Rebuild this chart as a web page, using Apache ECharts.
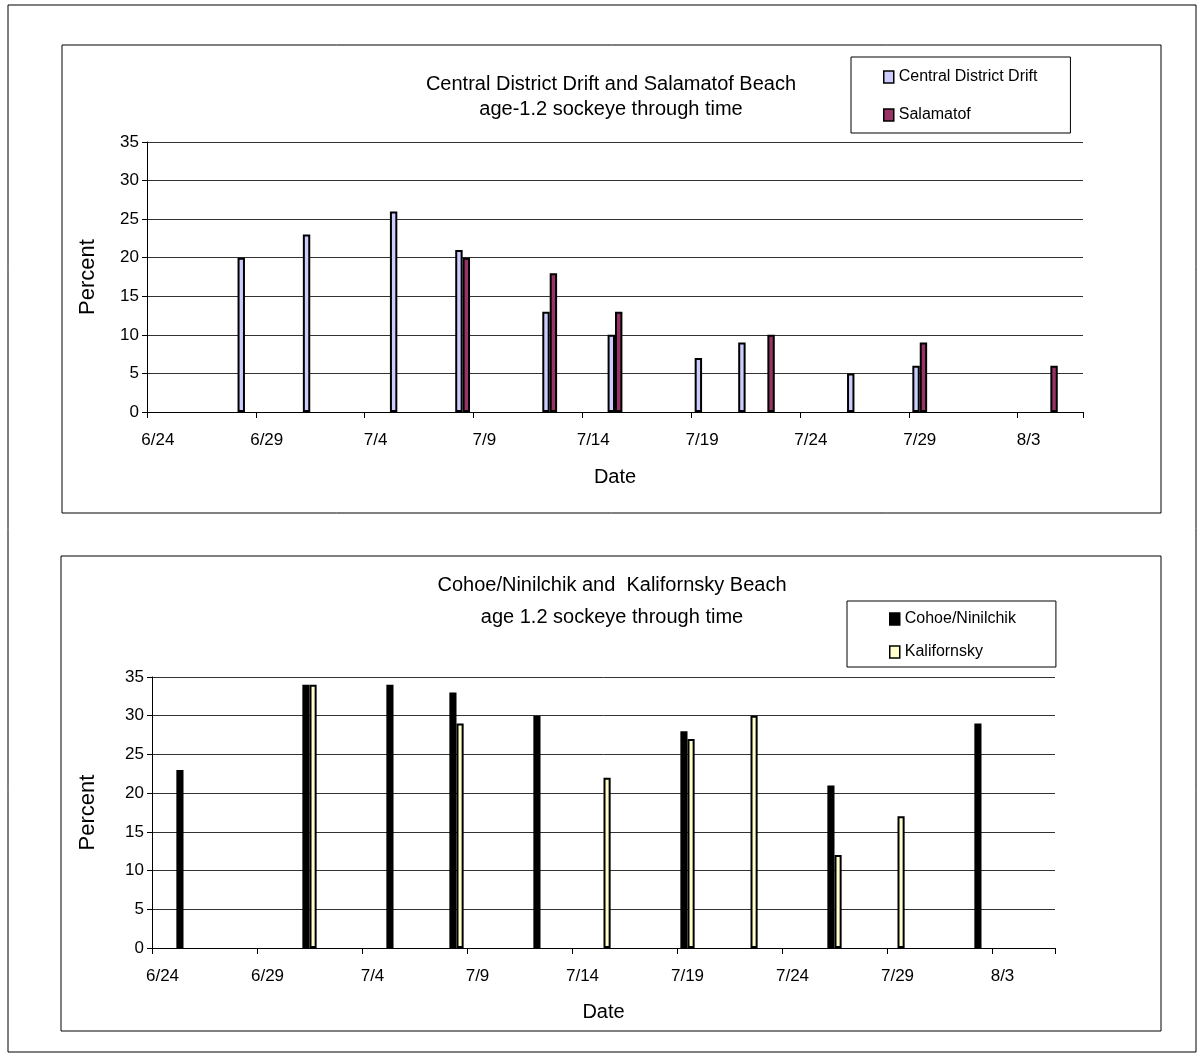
<!DOCTYPE html>
<html>
<head>
    <meta charset="utf-8">
    <title>age 1.2 sockeye through time</title>
    <script src="https://cdn.jsdelivr.net/npm/echarts@6/dist/echarts.min.js"></script>
    <style>
        body { margin: 0; background: #fff; }
        #main { width: 1203px; height: 1059px; }
    </style>
</head>
<body>
    <div id="main"></div>

    <script type="text/javascript">
    // one category per day, 6/24 .. 8/5
    var days = ['6/24','6/25','6/26','6/27','6/28','6/29','6/30',
        '7/1','7/2','7/3','7/4','7/5','7/6','7/7','7/8','7/9','7/10','7/11','7/12','7/13','7/14','7/15',
        '7/16','7/17','7/18','7/19','7/20','7/21','7/22','7/23','7/24','7/25','7/26','7/27','7/28','7/29',
        '7/30','7/31','8/1','8/2','8/3','8/4','8/5'];

    // top chart
    var cddDays = ['6/28','7/1','7/5','7/8','7/12','7/15','7/19','7/21','7/26','7/29'];
    var cddVals = [20, 23, 26, 21, 13, 10, 7, 9, 5, 6];
    var salDays = ['7/8','7/12','7/15','7/22','7/29','8/4'];
    var salVals = [20, 18, 13, 10, 9, 6];

    // bottom chart
    var cohDays = ['6/25','7/1','7/5','7/8','7/12','7/19','7/26','8/2'];
    var cohVals = [23, 34, 34, 33, 30, 28, 21, 29];
    var kalDays = ['7/1','7/8','7/15','7/19','7/22','7/26','7/29'];
    var kalVals = [34, 29, 22, 27, 30, 12, 17];

    var FONT = "'Liberation Sans', Arial, sans-serif";

    function spread(d, v) {
        var res = days.map(function () { return '-'; });
        for (var i = 0; i < d.length; i++) {
            res[days.indexOf(d[i])] = v[i];
        }
        return res;
    }

    function xAxisFor(g, gap) {
        return {
            type: 'category',
            gridIndex: g,
            data: days,
            name: 'Date',
            nameLocation: 'middle',
            nameGap: gap,
            nameTextStyle: { fontSize: 20, color: '#000' },
            axisLine: { lineStyle: { color: '#000', width: 1 } },
            axisTick: {
                show: true,
                alignWithLabel: false,
                length: 6,
                interval: 4,
                lineStyle: { color: '#000', width: 1 }
            },
            axisLabel: { interval: 4, fontSize: 17, color: '#000', margin: 20 },
            splitLine: { show: false }
        };
    }

    function yAxisFor(g, gap) {
        return {
            type: 'value',
            gridIndex: g,
            min: 0,
            max: 35,
            interval: 5,
            name: 'Percent',
            nameLocation: 'middle',
            nameRotate: 90,
            nameGap: gap,
            nameTextStyle: { fontSize: 22, color: '#000' },
            axisLine: { show: true, lineStyle: { color: '#000', width: 1 } },
            axisTick: { show: true, length: 5, lineStyle: { color: '#000' } },
            axisLabel: { fontSize: 17, color: '#000', margin: 8 },
            splitLine: { lineStyle: { color: '#333', width: 1 } }
        };
    }

    function barSeries(name, g, color, data) {
        return {
            name: name,
            type: 'bar',
            xAxisIndex: g,
            yAxisIndex: g,
            barGap: '0%',
            barCategoryGap: '32%',
            itemStyle: { color: color, borderColor: '#000', borderWidth: 2 },
            data: data
        };
    }

    function legendFor(names, left, top, pad, gap) {
        return {
            data: names,
            orient: 'vertical',
            left: left,
            top: top,
            padding: pad,
            itemGap: gap,
            itemWidth: 10,
            itemHeight: 12,
            icon: 'rect',
            selectedMode: false,
            borderColor: '#000',
            borderWidth: 1,
            itemStyle: { borderColor: '#000', borderWidth: 1.5 },
            textStyle: { fontSize: 16, color: '#000', lineHeight: 18 }
        };
    }

    var myChart = echarts.init(document.getElementById('main'));

    var option = {
        animation: false,
        backgroundColor: '#fff',
        textStyle: { fontFamily: FONT },
        title: [
            {
                text: 'Central District Drift and Salamatof Beach\nage-1.2 sockeye through time',
                left: 611, top: 72, textAlign: 'center', padding: 0,
                textStyle: { fontSize: 20, fontWeight: 'normal', color: '#000', lineHeight: 25 }
            },
            {
                text: 'Cohoe/Ninilchik and  Kalifornsky Beach\nage 1.2 sockeye through time',
                left: 612, top: 569, textAlign: 'center', padding: 0,
                textStyle: { fontSize: 20, fontWeight: 'normal', color: '#000', lineHeight: 32 }
            }
        ],
        legend: [
            legendFor(['Central District Drift', 'Salamatof'], 851, 57, [11, 33, 9, 32], 20),
            legendFor(['Cohoe/Ninilchik', 'Kalifornsky'], 847, 601, [9, 40, 6, 42], 15)
        ],
        grid: [
            { left: 147, top: 142, width: 936, height: 270 },
            { left: 152, top: 677, width: 903, height: 271 }
        ],
        xAxis: [xAxisFor(0, 55), xAxisFor(1, 54)],
        yAxis: [yAxisFor(0, 48), yAxisFor(1, 53)],
        graphic: [
            { type: 'rect', z: -1, shape: { x: 8, y: 5, width: 1188, height: 1047 },
              style: { fill: 'none', stroke: '#000', lineWidth: 1 } },
            { type: 'rect', z: -1, shape: { x: 62, y: 45, width: 1099, height: 468 },
              style: { fill: 'none', stroke: '#000', lineWidth: 1 } },
            { type: 'rect', z: -1, shape: { x: 61, y: 556, width: 1100, height: 475 },
              style: { fill: 'none', stroke: '#000', lineWidth: 1 } }
        ],
        series: [
            barSeries('Central District Drift', 0, '#CCCCFF', spread(cddDays, cddVals)),
            barSeries('Salamatof', 0, '#993366', spread(salDays, salVals)),
            barSeries('Cohoe/Ninilchik', 1, '#000000', spread(cohDays, cohVals)),
            barSeries('Kalifornsky', 1, '#FFFFCC', spread(kalDays, kalVals))
        ]
    };

    myChart.setOption(option);
    </script>
</body>
</html>
